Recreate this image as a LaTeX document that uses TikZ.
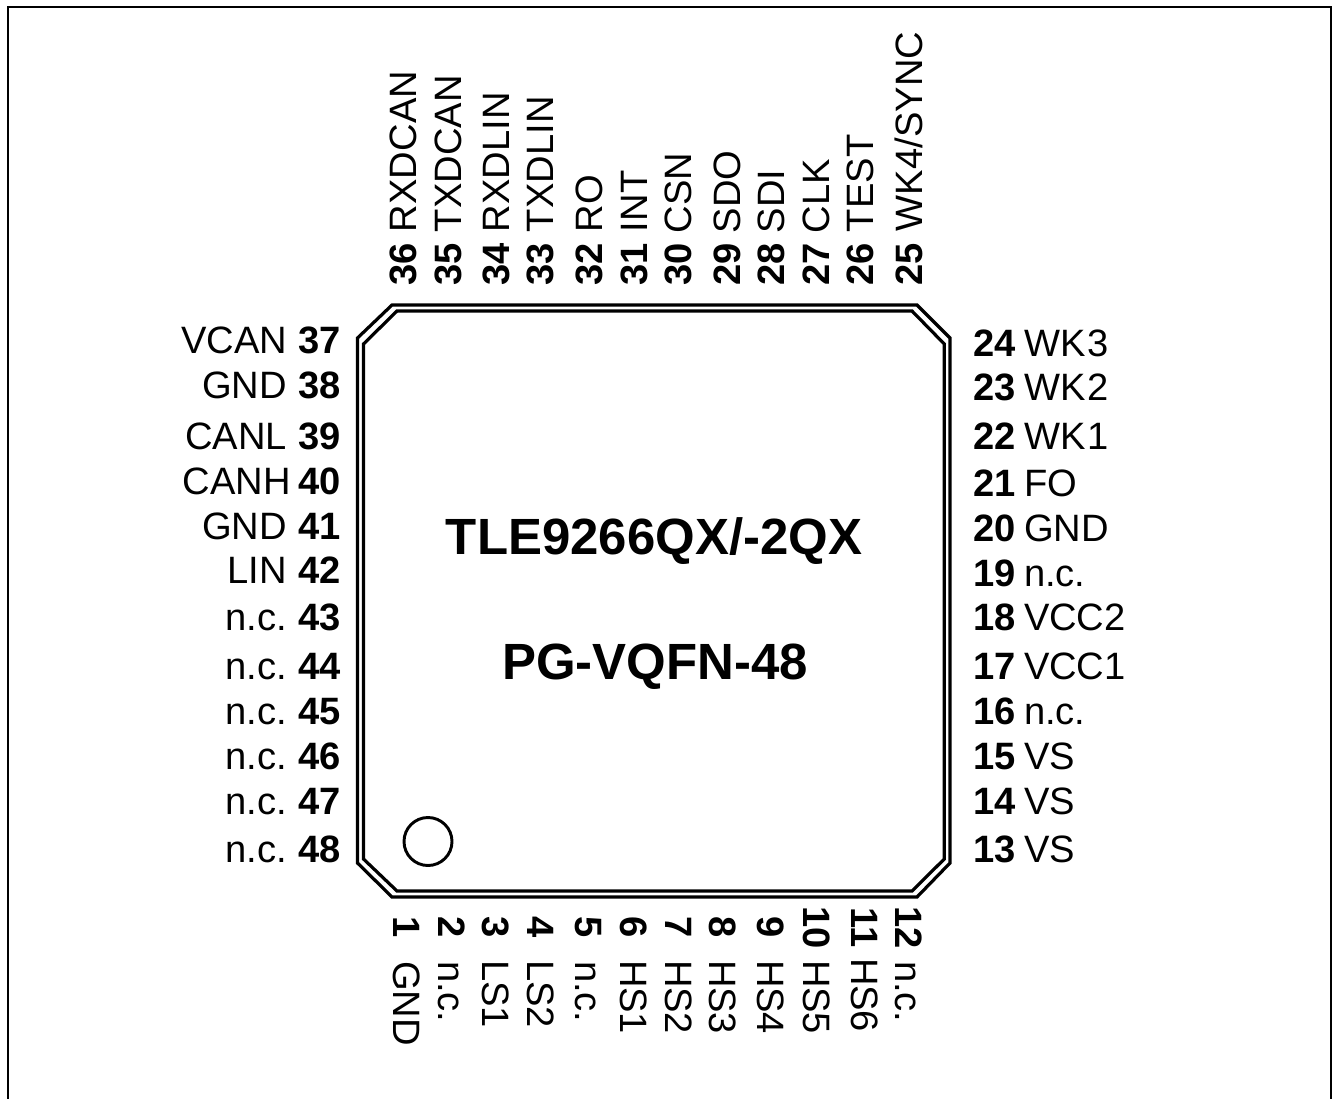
\documentclass[tikz,border=0pt]{standalone}
\usepackage{fontspec}
\setmainfont{Liberation Sans}
\tikzset{
  x=0.75pt,y=-0.75pt,
  pinlabel/.style={inner sep=0pt,outer sep=0pt,font=\fontsize{28.6pt}{30pt}\selectfont},
  pinnum/.style={pinlabel,font=\fontsize{28.6pt}{30pt}\selectfont\bfseries},
  title/.style={inner sep=0pt,outer sep=0pt,anchor=base,font=\fontsize{38.2pt}{40pt}\selectfont\bfseries},
  outline/.style={draw=black,line width=2.4pt,line join=miter},
  frameline/.style={draw=black,line width=1.5pt},
}
\begin{document}
\begin{tikzpicture}
\useasboundingbox (0,0) rectangle (1332,1099);
\draw[frameline] (7.5,1099) -- (7.5,7.5) -- (1330.5,7.5) -- (1330.5,1099);
% package
\draw[outline] (392,305) -- (917,305) -- (950,338) -- (950,863) -- (917,897) -- (392,897) -- (357.5,863) -- (357.5,338) -- cycle;
\draw[outline] (397,311) -- (912,311) -- (944.3,344) -- (944.3,859) -- (912,891) -- (397,891) -- (363.5,859) -- (363.5,344) -- cycle;
\node[draw=black,line width=2.2pt,circle,minimum size=36pt,inner sep=0pt] (dot) at (428,841.5) {};
\node[title] (t1) at (654,554) {TLE9266QX/-2QX};
\node[title] (t2) at (655,679) {PG-VQFN-48};
% left pins
\foreach \n/\s/\y/\nx in {37/VCAN/353/287,38/GND/398/287,39/CANL/449/287,40/CANH/494/291,41/GND/539/287,42/LIN/583/287,43/n.c./630/287,44/n.c./679/287,45/n.c./724/287,46/n.c./769/287,47/n.c./814/287,48/n.c./862/287}{
  \node[pinnum,anchor=base east] (p\n) at (341,\y) {\n};
  \node[pinlabel,anchor=base east] (l\n) at (\nx,\y) {\s};
}
% right pins
\foreach \n/\s/\y in {24/WK\kern1.5pt3/356,23/WK\kern1.5pt2/400,22/WK\kern1.5pt1/449,21/FO/496,20/GND/541,19/n.c./586,18/VCC2/630,17/VCC1/679,16/n.c./724,15/VS/769,14/VS/814,13/VS/862}{
  \node[pinnum,anchor=base east] (p\n) at (1016,\y) {\n};
  \node[pinlabel,anchor=base west] (l\n) at (1024,\y) {\s};
}
% top pins
\foreach \n/\s/\x/\ny in {36/RXDCAN/416/232,35/TXDCAN/461/232,34/RXDLIN/509/232,33/TXDLIN/553/232,32/RO/602/232,31/INT/647/232,30/CSN/691/233,29/SDO/740/233,28/SDI/784/233,27/CLK/829/233,26/TEST/873/232,25/WK4\slash SYNC/922/231}{
  \node[pinnum,anchor=base west,rotate=90] (p\n) at (\x,285.5) {\n};
  \node[pinlabel,anchor=base west,rotate=90] (l\n) at (\x,\ny) {\s};
}
% bottom pins
\foreach \n/\s/\x/\ny in {1/GND/393/961,2/n.c./438/961,3/LS1/482/960,4/LS2/527/960,5/n.c./575/961,6/HS1/620/960,7/HS2/665/960,8/HS3/709/960,9/HS4/757/960,10/HS5/803/960,11/HS6/851/958,12/n.c./895/961}{
  \node[pinnum,anchor=base,rotate=-90] (p\n) at (\x,927.5) {\n};
  \node[pinlabel,anchor=base west,rotate=-90] (l\n) at (\x,\ny) {\s};
}
\end{tikzpicture}
\end{document}
